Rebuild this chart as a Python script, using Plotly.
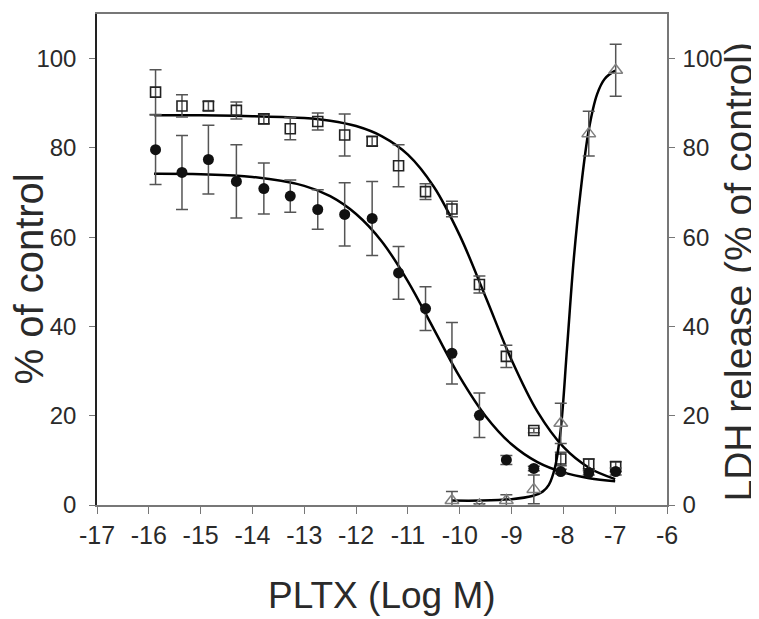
import plotly.graph_objects as go

# ---- data ----
log_conc = [-15.87, -15.36, -14.85, -14.31, -13.78, -13.27, -12.74, -12.22, -11.69,
            -11.18, -10.66, -10.15, -9.62, -9.10, -8.57, -8.05, -7.51, -6.99]
squares_y = [92.5, 89.4, 89.4, 88.4, 86.5, 84.3, 85.9, 82.9, 81.5,
             76.0, 70.2, 66.3, 49.4, 33.3, 16.7, 10.3, 9.2, 8.6]
squares_err = [5.0, 2.5, 1.0, 1.9, 1.1, 2.5, 1.9, 4.7, 1.0,
               4.7, 1.75, 1.75, 1.9, 2.5, 0.5, 1.5, 1.1, 1.1]
circles_y = [79.6, 74.5, 77.4, 72.5, 70.9, 69.2, 66.2, 65.1, 64.2,
             52.0, 44.0, 34.0, 20.1, 10.1, 8.2, 7.5, 7.2, 7.5]
circles_err = [7.8, 8.3, 7.7, 8.2, 5.7, 3.6, 4.4, 7.1, 8.3,
               5.9, 4.9, 6.9, 5.0, 1.0, 0.5, 0.5, 0.5, 0.8]

ldh_x = [-10.15, -9.62, -9.10, -8.57, -8.05, -7.51, -6.99]
ldh_y = [1.0, 0.0, 1.0, 3.5, 18.3, 83.2, 97.4]
ldh_err = [2.0, 0.3, 1.3, 3.2, 4.5, 5.0, 5.8]

# fitted curves
fit_x = [-15.9, -15.0, -14.0, -13.0, -12.5, -12.0, -11.5, -11.0, -10.5,
         -10.0, -9.5, -9.0, -8.5, -8.0, -7.5, -7.0]
fit_sq_y = [87.3, 87.3, 87.1, 86.7, 86.1, 84.9, 82.6, 78.5, 71.3,
            60.4, 46.6, 32.5, 20.9, 13.0, 8.3, 5.8]
fit_ci_y = [74.2, 74.1, 73.5, 71.5, 69.2, 65.2, 59.0, 50.1, 39.4,
            28.7, 19.9, 13.6, 9.6, 7.3, 6.0, 5.3]
fit_ldh_x = [-10.15, -9.6, -9.0, -8.6, -8.4, -8.28, -8.16, -8.05, -7.93,
             -7.8, -7.67, -7.51, -7.35, -7.2, -7.0]
fit_ldh_y = [1.0, 1.0, 1.3, 2.0, 3.0, 4.5, 8.5, 17.0, 35.0,
             55.0, 70.0, 84.0, 92.0, 95.5, 97.3]

x_ticks = [-17, -16, -15, -14, -13, -12, -11, -10, -9, -8, -7, -6]
x_tick_labels = ["-17", "-16", "-15", "-14", "-13", "-12", "-11", "-10", "-9", "-8", "-7", "-6"]
y_ticks = [0, 20, 40, 60, 80, 100]

x_title = "PLTX (Log M)"
y_title = "% of control"
y2_title = "LDH release (% of control)"

FONT = "Liberation Sans, Arial, sans-serif"
ERR_COL = "#555555"
TXT = "#2a2a2a"

fig = go.Figure()

line_style = dict(color="black", width=2.5, shape="spline")
fig.add_trace(go.Scatter(x=fit_x, y=fit_sq_y, mode="lines", line=line_style,
                         showlegend=False, hoverinfo="skip"))
fig.add_trace(go.Scatter(x=fit_x, y=fit_ci_y, mode="lines", line=line_style,
                         showlegend=False, hoverinfo="skip"))
fig.add_trace(go.Scatter(x=fit_ldh_x, y=fit_ldh_y, mode="lines", yaxis="y2", line=line_style,
                         showlegend=False, hoverinfo="skip"))

fig.add_trace(go.Scatter(x=log_conc, y=squares_y, mode="markers",
                         error_y=dict(type="data", array=squares_err, color=ERR_COL, thickness=1.5, width=6),
                         marker=dict(symbol="square-open", size=10, color="#222222", line=dict(width=1.6)),
                         showlegend=False))
fig.add_trace(go.Scatter(x=log_conc, y=circles_y, mode="markers",
                         error_y=dict(type="data", array=circles_err, color=ERR_COL, thickness=1.5, width=6),
                         marker=dict(symbol="circle", size=11, color="#111111"),
                         showlegend=False))
fig.add_trace(go.Scatter(x=ldh_x, y=ldh_y, mode="markers", yaxis="y2",
                         error_y=dict(type="data", array=ldh_err, color=ERR_COL, thickness=1.5, width=6),
                         marker=dict(symbol="triangle-up-open", size=12, color="#808080", line=dict(width=1.5)),
                         showlegend=False))

axis_common = dict(showgrid=False, zeroline=False, automargin=False, ticks="outside")

# the page puts the figure 8px in from the top-left corner, so the figure is 8px smaller
fig.update_layout(
    width=751, height=611,
    margin=dict(l=89, r=92, t=6, b=114),
    paper_bgcolor="#ffffff", plot_bgcolor="#ffffff",
    font=dict(family=FONT, color=TXT),
    xaxis=dict(range=[-17, -6], tickvals=x_ticks, ticktext=x_tick_labels, ticklen=7, tickcolor="#777777",
               showline=True, linecolor="#777777", linewidth=1.5, mirror=True,
               tickfont=dict(size=25, color=TXT, family=FONT), **axis_common),
    yaxis=dict(range=[0, 110], tickvals=y_ticks, ticklen=6, tickcolor="#777777",
               showline=True, linecolor="#222222", linewidth=1.5, ticklabelstandoff=8,
               tickfont=dict(size=24, color=TXT, family=FONT), **axis_common),
    yaxis2=dict(range=[0, 110], tickvals=y_ticks, ticklen=6, tickcolor="#777777",
                overlaying="y", side="right", showline=True, linecolor="#777777", linewidth=1.5,
                ticklabelstandoff=3, tickfont=dict(size=24, color=TXT, family=FONT), **axis_common),
    annotations=[
        dict(text=x_title, xref="paper", yref="paper", x=0.5, y=0, yshift=-90,
             xanchor="center", yanchor="middle", showarrow=False,
             font=dict(size=37, color=TXT, family=FONT)),
        dict(text=y_title, xref="paper", yref="paper", x=0, y=0.5, xshift=-69, yshift=-20,
             xanchor="center", yanchor="middle", textangle=-90, showarrow=False,
             font=dict(size=40, color=TXT, family=FONT)),
        dict(text=y2_title, xref="paper", yref="paper", x=1, y=0.5, xshift=71, yshift=-12,
             xanchor="center", yanchor="middle", textangle=-90, showarrow=False,
             font=dict(size=39, color=TXT, family=FONT)),
    ],
)

fig.write_html("out.html")
